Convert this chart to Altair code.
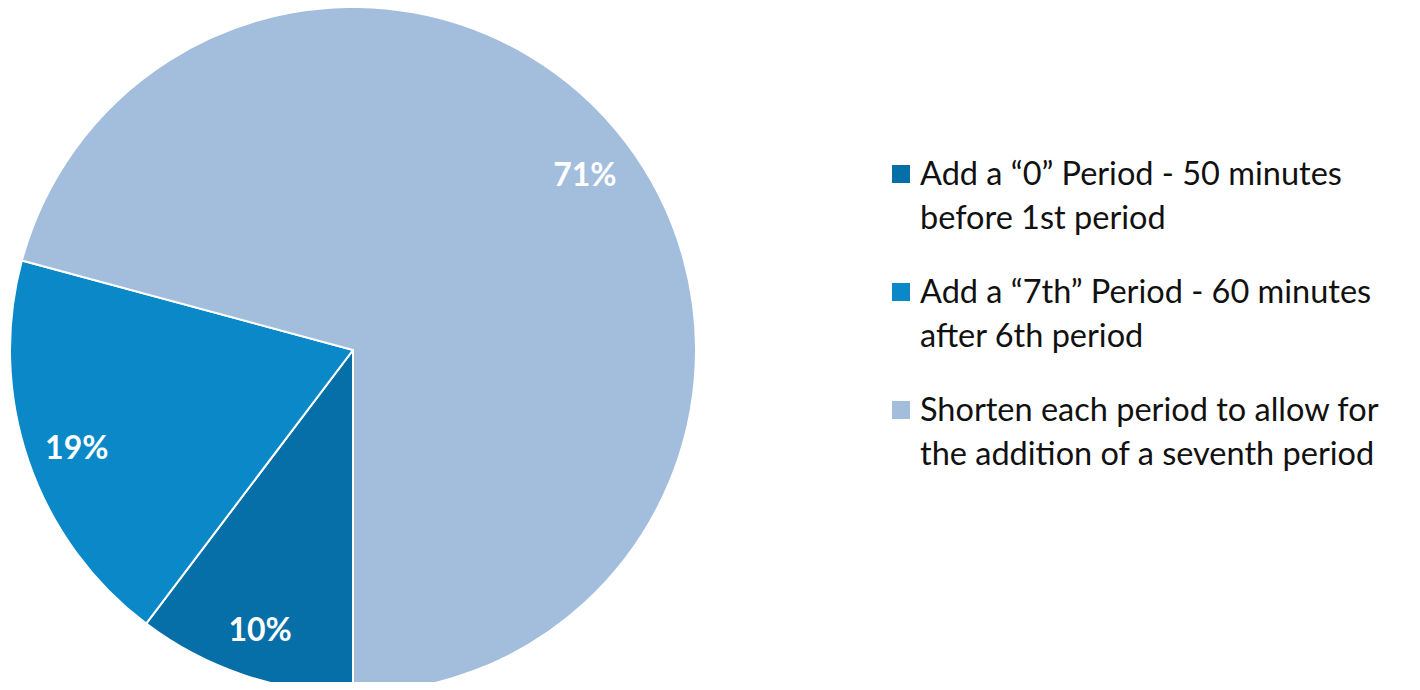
import math
import altair as alt
import pandas as pd

categories = [
    "Add a \u201c0\u201d Period - 50 minutes|before 1st period",
    "Add a \u201c7th\u201d Period - 60 minutes|after 6th period",
    "Shorten each period to allow for|the addition of a seventh period",
]
values = [10.3, 18.9, 70.8]
labels = ["10%", "19%", "71%"]
colors = ["#066FA8", "#0A88C8", "#A3BDDD"]

df = pd.DataFrame({"category": categories, "value": values, "label": labels,
                   "order": [0, 1, 2]})

color = alt.Color("category:N", scale=alt.Scale(domain=categories, range=colors), legend=None)
theta = alt.Theta("value:Q", stack=True, scale=alt.Scale(range=[math.pi, 3 * math.pi]))
order = alt.Order("order:Q")

cx, cy = 345, 342

pie = alt.Chart(df).mark_arc(outerRadius=343, stroke="white", strokeWidth=2).encode(
    theta=theta, color=color, order=order,
    x=alt.value(cx), y=alt.value(cy),
)

pct = alt.Chart(df).mark_text(radius=292, font="Lato", fontWeight="bold", fontSize=32,
                              color="white").encode(
    theta=theta, order=order, text="label:N",
    x=alt.value(cx), y=alt.value(cy + 4),
)

ysc = alt.Scale(domain=categories, range=[166, 402], padding=0)

leg_sym = alt.Chart(df).mark_square(size=324, opacity=1).encode(
    x=alt.value(893),
    y=alt.Y("category:N", scale=ysc, axis=None),
    color=color,
)

leg_txt = alt.Chart(df).transform_calculate(
    lines="split(datum.category, '|')"
).mark_text(align="left", baseline="alphabetic", font="Lato", fontSize=32.5,
            color="#111111", lineHeight=44, dy=11).encode(
    x=alt.value(912),
    y=alt.Y("category:N", scale=ysc, axis=None),
    text="lines:N",
)

chart = alt.layer(pie, pct, leg_sym, leg_txt).properties(
    width=1400, height=674, padding=0, autosize=alt.AutoSizeParams(type="none")
).configure_view(stroke=None)

chart.save("out.html", embed_options={"renderer": "svg", "actions": False})
